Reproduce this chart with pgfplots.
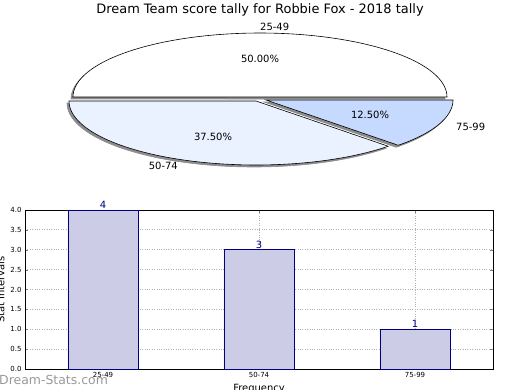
\documentclass[border=0pt]{standalone}
\usepackage{pgfplots}
\pgfplotsset{compat=1.18}
\usepackage{fontspec}
\setmainfont{DejaVu Sans}
\definecolor{barfill}{RGB}{204,204,230}
\definecolor{baredge}{RGB}{0,0,128}
\definecolor{pieA}{RGB}{255,255,255}
\definecolor{pieB}{RGB}{234,241,255}
\definecolor{pieC}{RGB}{198,217,255}
\definecolor{shad}{RGB}{140,140,140}
\newcommand{\pieslice}[5]{%
  \addplot[draw=#5, line width=0.6bp, fill=#5, domain=#3:#4, samples=80, variable=\t]
    ({#1+187*cos(\t)}, {#2-64*sin(\t)}) -- (axis cs:#1,#2) -- cycle;}
\newcommand{\pieedge}[5]{%
  \addplot[draw=black, line width=0.6bp, fill=#5, domain=#3:#4, samples=80, variable=\t]
    ({#1+187*cos(\t)}, {#2-64*sin(\t)}) -- (axis cs:#1,#2) -- cycle;}
\begin{document}
\begin{tikzpicture}
% counts per interval
\def\cA{4}\def\cB{3}\def\cC{1}
\pgfmathsetmacro{\tot}{\cA+\cB+\cC}
\pgfmathsetmacro{\angA}{360*\cA/\tot}
\pgfmathsetmacro{\angB}{\angA+360*\cB/\tot}
\pgfmathsetmacro{\angC}{\angB+360*\cC/\tot}
\begin{axis}[at={(0bp,0bp)}, anchor=south west, width=520bp, height=390bp,
  scale only axis, xmin=0, xmax=520, ymin=0, ymax=390, y dir=reverse,
  hide axis, clip=false]
% shadows
\pieslice{258}{99}{0}{\angA}{shad}
\pieslice{254}{103}{\angA}{\angB}{shad}
\pieslice{264}{102}{\angB}{\angC}{shad}
% wedges
\pieedge{260}{97}{0}{\angA}{pieA}
\pieedge{256}{101}{\angA}{\angB}{pieB}
\pieedge{266}{100}{\angB}{\angC}{pieC}
\node[font=\fontsize{10}{12}\selectfont] at (axis cs:260,58.6) {50.00\%};
\node[font=\fontsize{10}{12}\selectfont] at (axis cs:213,136.5) {37.50\%};
\node[font=\fontsize{10}{12}\selectfont] at (axis cs:370,114.7) {12.50\%};
\node[font=\fontsize{10}{12}\selectfont, anchor=west, inner sep=0pt] at (axis cs:260,26.6) {25-49};
\node[font=\fontsize{10}{12}\selectfont, anchor=east, inner sep=0pt] at (axis cs:178,166) {50-74};
\node[font=\fontsize{10}{12}\selectfont, anchor=west, inner sep=0pt] at (axis cs:456,127) {75-99};
\node[font=\fontsize{13}{15}\selectfont] at (axis cs:260,10) {Dream Team score tally for Robbie Fox - 2018 tally};
\end{axis}
\begin{axis}[at={(25bp,21bp)}, anchor=south west, width=468bp, height=159bp,
  scale only axis, xmin=-0.5, xmax=2.5, ymin=0, ymax=4,
  xtick={0,1,2}, xticklabels={25-49,50-74,75-99},
  ytick={0,0.5,1,1.5,2,2.5,3,3.5,4},
  yticklabel style={/pgf/number format/fixed, /pgf/number format/fixed zerofill, /pgf/number format/precision=1},
  /pgf/number format/assume math mode=true,
  tick label style={font=\fontsize{7}{8}\selectfont},
  grid=major, grid style={dotted, gray!60, line width=0.8bp},
  major tick length=3bp, tick align=inside,
  axis line style={line width=0.8bp},
  ylabel={Stat Intervals}, xlabel={Frequency},
  label style={font=\fontsize{10}{12}\selectfont},
  ylabel style={at={(axis description cs:-0.052,0.5)}, anchor=center},
  xlabel style={at={(axis description cs:0.5,0)}, yshift=-20bp, anchor=center},
  clip=false]
\addplot[ybar, bar width=0.45, fill=barfill, draw=baredge, line width=0.7bp,
  nodes near coords, nodes near coords style={font=\fontsize{10}{12}\selectfont, text=baredge, inner sep=1bp}]
  coordinates {(0,4) (1,3) (2,1)};
\end{axis}
\node[anchor=west, text=gray!80, font=\fontsize{12.5}{14}\selectfont, inner sep=0pt] at (-1bp,10bp) {Dream-Stats.com};
\pgfresetboundingbox
\useasboundingbox (0bp,0bp) rectangle (520bp,390bp);
\end{tikzpicture}
\end{document}
